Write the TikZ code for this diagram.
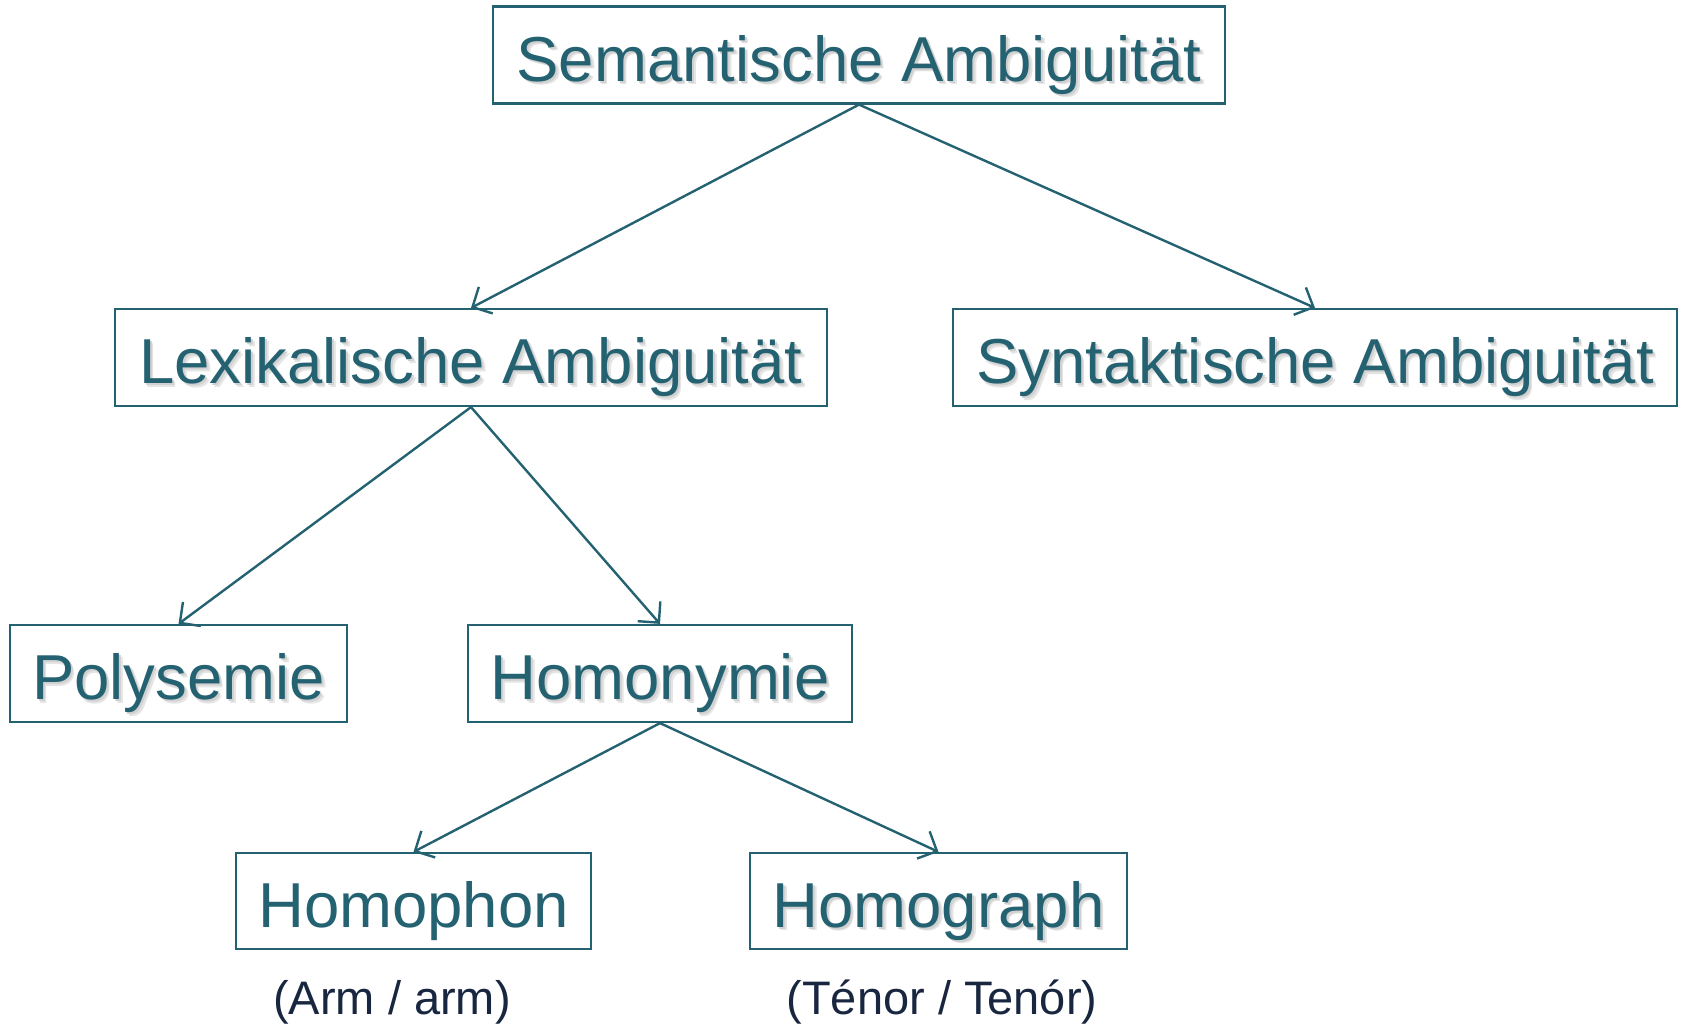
\documentclass[tikz,border=0pt]{standalone}
\usepackage{fontspec}
\setmainfont{Liberation Sans}
\usetikzlibrary{arrows.meta}
\definecolor{teal1}{HTML}{246272}
\definecolor{navy1}{HTML}{182640}
\newcommand\shtxt[1]{\makebox[0pt][l]{\kern3.5pt\raisebox{-3.5pt}{\color{black!10}#1}}\makebox[0pt][l]{\kern2pt\raisebox{-2pt}{\color{black!18}#1}}#1}
\begin{document}
\begin{tikzpicture}[x=1pt,y=-1pt,
    box/.style={draw=teal1, line width=2.2pt, text=teal1, inner sep=0pt,
        minimum height=97pt, text height=52pt, text depth=0pt,
        font=\fontsize{63.5}{70}\selectfont},
    example/.style={text=navy1, inner sep=0pt, font=\fontsize{47}{52}\selectfont},
    link/.style={draw=teal1, line width=2.4pt, -{Straight Barb[length=15pt,width=30pt]}}]
    \useasboundingbox (0,0) rectangle (1688,1026);
    % boxes
    \node[box, minimum width=732pt] (sem) at (859,55) {\shtxt{Semantische Ambiguität}};
    \node[box, minimum width=712pt] (lex) at (471,357.5) {\shtxt{Lexikalische Ambiguität}};
    \node[box, minimum width=724pt] (syn) at (1315,357.5) {\shtxt{Syntaktische Ambiguität}};
    \node[box, minimum width=337pt] (poly) at (178.5,673.5) {\shtxt{Polysemie}};
    \node[box, minimum width=384pt] (homn) at (660,673.5) {\shtxt{Homonymie}};
    \node[box, minimum width=355pt, minimum height=96pt] (hphon) at (413.5,901) {Homophon};
    \node[box, minimum width=377pt, minimum height=96pt] (hgraph) at (938.5,901) {\shtxt{Homograph}};
    % examples
    \node[example] (ex1) at (392,1002) {(Arm / arm)};
    \node[example] (ex2) at (942,1002) {(Ténor / Tenór)};
    % links
    \draw[link] (sem.south) -- (lex.north);
    \draw[link] (sem.south) -- (syn.north);
    \draw[link] (lex.south) -- (poly.north);
    \draw[link] (lex.south) -- (homn.north);
    \draw[link] (homn.south) -- (hphon.north);
    \draw[link] (homn.south) -- (hgraph.north);
\end{tikzpicture}
\end{document}
